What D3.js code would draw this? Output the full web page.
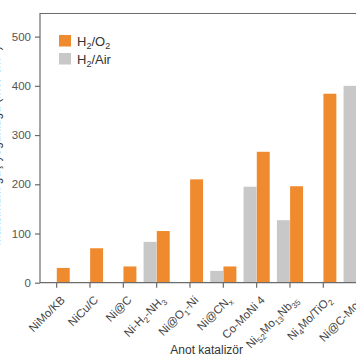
<!DOCTYPE html>
<html><head><meta charset="utf-8">
<script src="https://cdn.jsdelivr.net/npm/d3@7"></script>
<style>
html,body{margin:0;padding:0;background:#fff;overflow:hidden;}
svg{display:block;font-family:"Liberation Sans",Arial,sans-serif;}
</style></head>
<body>
<svg id="chart" width="356" height="364"></svg>
<script>
// Categories: each is a list of [text, isSubscript] parts
const categories = ["NiMo/KB","NiCu/C","Ni@C","Ni-H2-NH3","Ni@O1-Ni","Ni@CNx","Co-MoNi 4","Ni52Mo13Nb35","Ni4Mo/TiO2","Ni@C-MoC"];
const categoryParts = [
  [["NiMo/KB",0]],
  [["NiCu/C",0]],
  [["Ni@C",0]],
  [["Ni-H",0],["2",1],["-NH",0],["3",1]],
  [["Ni@O",0],["1",1],["-Ni",0]],
  [["Ni@CN",0],["x",1]],
  [["Co-MoNi 4",0]],
  [["Ni",0],["52",1],["Mo",0],["13",1],["Nb",0],["35",1]],
  [["Ni",0],["4",1],["Mo/TiO",0],["2",1]],
  [["Ni@C-MoC",0]]
];
const seriesNames = ["H2/Air","H2/O2"];
const h2o2Values = [30, 70, 33, 105, 210, 33, 266, 196, 384, null];
const h2airValues = [null, null, null, 83, null, 24, 195, 127, null, 400];
const yTicks = [0, 100, 200, 300, 400, 500];
const colors = {"H2/O2":"#F08A2E","H2/Air":"#C8C8C8"};

const svg = d3.select("#chart");
const margin = {left:40, top:13};
const plotW = 333.3, plotH = 269.7;
const xRight = margin.left + plotW, yBottom = margin.top + plotH;

const y = d3.scaleLinear().domain([0, 548]).range([yBottom, margin.top]);
const x0 = d3.scaleBand().domain(categories).range([margin.left, xRight]).paddingInner(0.2).paddingOuter(0.1);
const x1 = d3.scaleBand().domain(seriesNames).range([0, x0.bandwidth()]).padding(0.02);

const rows = categories.map((c,i)=>({c, "H2/Air":h2airValues[i], "H2/O2":h2o2Values[i]}));

// bars
const g = svg.append("g");
rows.forEach(r=>{
  seriesNames.forEach(s=>{
    if(r[s]==null) return;
    g.append("rect")
      .attr("x", x0(r.c)+x1(s))
      .attr("y", y(r[s]))
      .attr("width", x1.bandwidth())
      .attr("height", y(0)-y(r[s]))
      .attr("fill", colors[s]);
  });
});

const axisColor = "#6b6b6b";
// frame: top line
svg.append("line").attr("x1", margin.left).attr("x2", 356).attr("y1", margin.top+0.5).attr("y2", margin.top+0.5)
  .attr("stroke", axisColor).attr("stroke-width",1.2);

// y axis
const yAxis = svg.append("g").attr("transform",`translate(${margin.left},0)`)
  .call(d3.axisLeft(y).tickValues(yTicks).tickSize(5).tickPadding(4));
yAxis.select(".domain").attr("stroke", axisColor).attr("stroke-width",1.2).attr("d", `M0,${margin.top}V${yBottom}`);
yAxis.selectAll(".tick line").attr("stroke", axisColor).attr("stroke-width",1.2);
yAxis.selectAll(".tick text").attr("fill","#555").attr("font-size","11.5px").attr("font-family","Liberation Sans, Arial, sans-serif");

// x axis
const xAxis = svg.append("g").attr("transform",`translate(0,${yBottom})`)
  .call(d3.axisBottom(x0).tickSize(5).tickFormat(""));
xAxis.select(".domain").attr("stroke", axisColor).attr("stroke-width",1.2).attr("d", `M${margin.left},0H${xRight}`);
xAxis.selectAll(".tick line").attr("stroke", axisColor).attr("stroke-width",1.2);

// rotated category labels
categories.forEach((c,i)=>{
  const cx = x0(c)+x0.bandwidth()/2;
  const t = svg.append("text")
    .attr("transform", `translate(${cx+9},${yBottom+18}) rotate(-45)`)
    .attr("text-anchor","end")
    .attr("font-size","11.5px")
    .attr("fill","#444");
  let sub = false;
  categoryParts[i].forEach(([txt,isSub])=>{
    const ts = t.append("tspan").text(txt);
    if(isSub && !sub){ ts.attr("dy","3").attr("font-size","8px"); sub=true; }
    else if(!isSub && sub){ ts.attr("dy","-3"); sub=false; }
    else if(isSub){ ts.attr("font-size","8px"); }
  });
});

// x title
svg.append("text").attr("x", (margin.left+xRight)/2).attr("y", 354)
  .attr("text-anchor","middle").attr("font-size","12px").attr("fill","#333").text("Anot katalizör");

// y title (mostly cropped by the frame edge, as in the reference)
svg.append("text").attr("transform", `translate(-0.5,${(margin.top+yBottom)/2 - 2}) rotate(-90)`)
  .attr("text-anchor","middle").attr("font-size","12px").attr("fill","#333")
  .text("Maksimum güç yoğunluğu (mW cm⁻²)");

// legend
const leg = svg.append("g");
const legendItems = [["H2/O2",[["H",0],["2",1],["/O",0],["2",1]]],["H2/Air",[["H",0],["2",1],["/Air",0]]]];
legendItems.forEach(([key,parts],i)=>{
  const yy = 35 + i*18;
  leg.append("rect").attr("x",59).attr("y",yy).attr("width",12).attr("height",11.5).attr("fill",colors[key]);
  const t = leg.append("text").attr("x",77).attr("y",yy+11).attr("font-size","13px").attr("fill","#333");
  let sub=false;
  parts.forEach(([txt,isSub])=>{
    const ts = t.append("tspan").text(txt);
    if(isSub){ ts.attr("font-size","9px"); if(!sub){ts.attr("dy","3"); sub=true;} }
    else if(sub){ ts.attr("dy","-3"); sub=false; }
  });
});
</script>
</body></html>
